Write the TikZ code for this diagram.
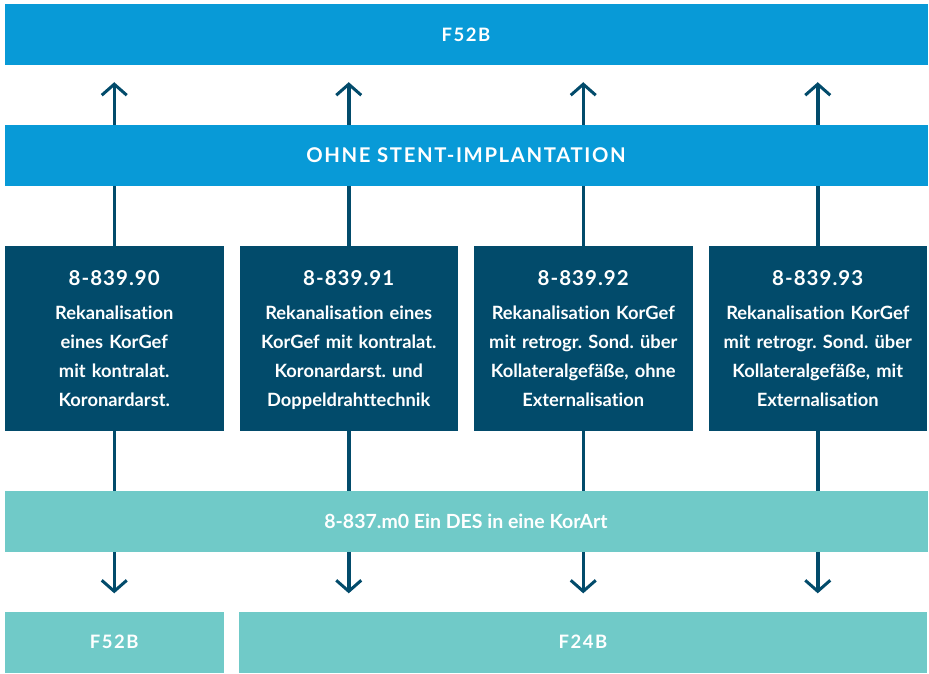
\documentclass[tikz,border=0pt]{standalone}
\usepackage{fontspec}
\setmainfont{Lato}[RawFeature=-liga]
\newfontfamily\spacedfont[LetterSpace=8,RawFeature=-liga]{Lato}
\newfontfamily\headfont[LetterSpace=5,RawFeature=-liga]{Lato}
\usetikzlibrary{arrows.meta,backgrounds}
\definecolor{topblue}{HTML}{089AD7}
\definecolor{darkbox}{HTML}{024B6B}
\definecolor{lightteal}{HTML}{70CAC8}
\frenchspacing
\tikzset{
  bar/.style={rectangle, inner sep=0pt, minimum height=61pt, text=white},
  capsfont/.style={font=\spacedfont\bfseries\fontsize{18.5}{18.5}\selectfont},
  procbox/.style={rectangle, fill=darkbox, inner sep=0pt, minimum width=218.5pt, minimum height=185pt,
    text=white, align=center, text width=216pt, font=\bfseries\fontsize{18.3}{29}\selectfont},
  conn/.style={draw=darkbox, line width=3.5pt,
    -{Straight Barb[length=11pt,width=25pt,line width=3pt]}},
}
\newcommand{\headcode}[1]{{\headfont\bfseries\fontsize{20.5}{29}\selectfont\rule{0pt}{19pt}#1}\\[5pt]}
\begin{document}
\begin{tikzpicture}[x=1pt,y=-1pt]
\useasboundingbox (0,0) rectangle (929,673);
\node[bar, fill=topblue, minimum width=923pt, capsfont] (top) at (466,34.5) {F52B};
\node[bar, fill=topblue, minimum width=923pt, font=\spacedfont\bfseries\fontsize{20.3}{20.3}\selectfont] (ohne) at (466,155.5) {OHNE STENT-IMPLANTATION};
\node[procbox] (d1) at (114.25,338.5) {\headcode{8-839.90}Rekanalisation\\eines KorGef\\mit kontralat.\\Koronardarst.\vphantom{p}};
\node[procbox] (d2) at (348.75,338.5) {\headcode{8-839.91}Rekanalisation eines\\KorGef mit kontralat.\\Koronardarst. und\\Doppeldrahttechnik};
\node[procbox] (d3) at (583.25,338.5) {\headcode{8-839.92}Rekanalisation KorGef\\mit retrogr. Sond. über\\Kollateralgefäße, ohne\\Externalisation\vphantom{p}};
\node[procbox] (d4) at (817.75,338.5) {\headcode{8-839.93}Rekanalisation KorGef\\mit retrogr. Sond. über\\Kollateralgefäße, mit\\Externalisation\vphantom{p}};
\node[bar, fill=lightteal, minimum width=923pt, font=\bfseries\fontsize{19.5}{19.5}\selectfont] (des) at (466,521.5) {8-837.m0 Ein DES in eine KorArt};
\node[bar, fill=lightteal, minimum width=218.5pt, capsfont] (b1) at (114.25,642) {F52B};
\node[bar, fill=lightteal, minimum width=688pt, capsfont] (b2) at (583,642) {F24B};
\begin{scope}[on background layer]
\foreach \i in {1,...,4}{
  \draw[conn, shorten >=17pt] (d\i.north) -- (d\i.north |- top.south);
  \draw[conn, shorten >=18pt] (d\i.south) -- (d\i.south |- b2.north);
}
\end{scope}
\end{tikzpicture}
\end{document}
